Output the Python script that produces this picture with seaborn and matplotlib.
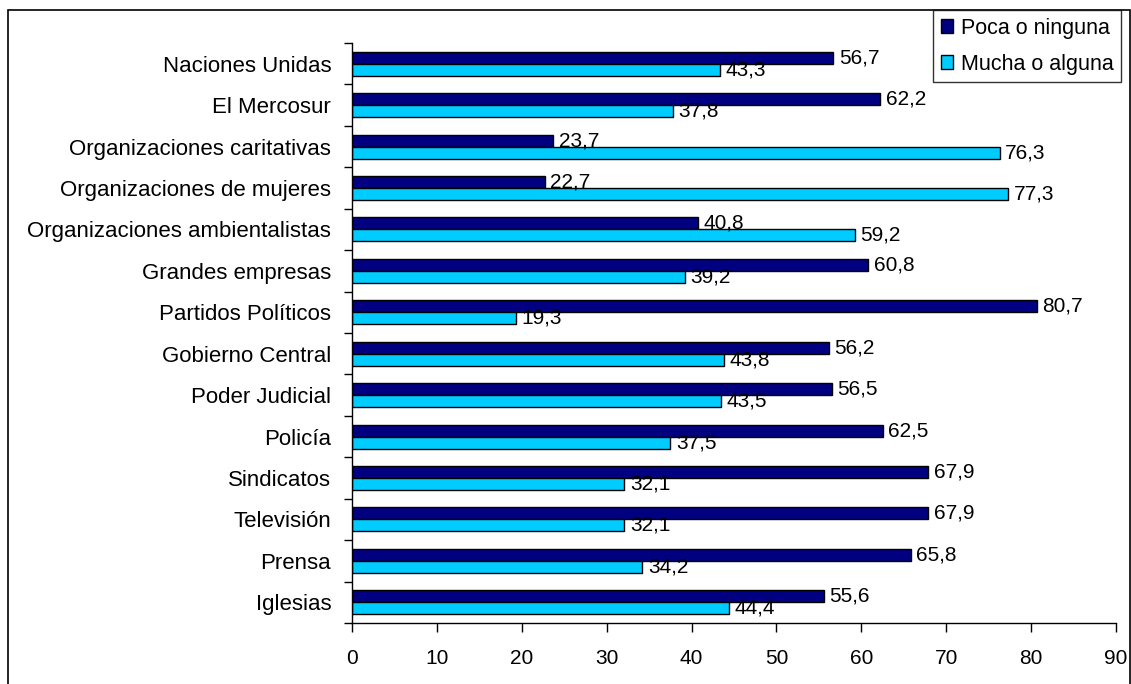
import matplotlib
matplotlib.use("Agg")
import matplotlib.pyplot as plt
import matplotlib.patches as mpatches
from matplotlib.ticker import FixedLocator, MultipleLocator
import seaborn as sns
import pandas as pd

categories = ["Naciones Unidas", "El Mercosur", "Organizaciones caritativas",
              "Organizaciones de mujeres", "Organizaciones ambientalistas",
              "Grandes empresas", "Partidos Políticos", "Gobierno Central",
              "Poder Judicial", "Policía", "Sindicatos", "Televisión",
              "Prensa", "Iglesias"]
poca = [56.7, 62.2, 23.7, 22.7, 40.8, 60.8, 80.7, 56.2, 56.5, 62.5, 67.9, 67.9, 65.8, 55.6]
mucha = [43.3, 37.8, 76.3, 77.3, 59.2, 39.2, 19.3, 43.8, 43.5, 37.5, 32.1, 32.1, 34.2, 44.4]
series = ["Poca o ninguna", "Mucha o alguna"]
colors = ["#000080", "#00CCFF"]

df = pd.DataFrame({
    "cat": categories * 2,
    "val": poca + mucha,
    "serie": [series[0]] * len(categories) + [series[1]] * len(categories),
})

sns.set_theme(style="white")
plt.rcParams["font.family"] = ["Liberation Sans", "DejaVu Sans"]

fig = plt.figure(figsize=(11.31, 6.84), dpi=100)
ax = fig.add_axes([352 / 1131, 1 - 623 / 684, (1116 - 352) / 1131, (623 - 43) / 684])

sns.barplot(data=df, y="cat", x="val", hue="serie", orient="h",
            palette=colors, saturation=1, width=0.58, edgecolor="black", linewidth=1.0,
            ax=ax, legend=True, order=categories, hue_order=series)

for cont in ax.containers:
    labels = [f"{v:.1f}".replace(".", ",") for v in cont.datavalues]
    ax.bar_label(cont, labels=labels, padding=4, fontsize=15, color="black")

ax.set_xlim(0, 90)
ax.set_ylim(len(categories) - 0.5, -0.5)
ax.xaxis.set_major_locator(MultipleLocator(10))
ax.yaxis.set_minor_locator(FixedLocator([i - 0.5 for i in range(len(categories) + 1)]))
ax.tick_params(axis="y", which="major", length=0, labelsize=16, pad=15, colors="black")
ax.tick_params(axis="y", which="minor", length=6, width=1, color="black", direction="out", left=True)
ax.tick_params(axis="x", which="major", length=6.5, width=1, color="black", direction="out",
               bottom=True, labelsize=15, pad=12, labelcolor="black")
ax.set_xlabel("")
ax.set_ylabel("")
for s in ["top", "right"]:
    ax.spines[s].set_visible(False)
for s in ["left", "bottom"]:
    ax.spines[s].set_color("black")
    ax.spines[s].set_linewidth(1)

leg = ax.get_legend()
leg.remove()
handles = [mpatches.Patch(facecolor=c, edgecolor="black", label=s) for c, s in zip(colors, series)]
leg = fig.legend(handles=handles, loc="upper left", bbox_to_anchor=(933 / 1131, 1 - 10 / 684),
                 frameon=True, fancybox=False, fontsize=15.5, handlelength=0.6, handleheight=0.6,
                 handletextpad=0.35, borderpad=0.35, labelspacing=0.7, borderaxespad=0,
                 labelcolor="black")
leg.get_frame().set_edgecolor("black")
leg.get_frame().set_linewidth(1)

border = mpatches.Rectangle((8 / 1131, -0.05), (1130 - 8) / 1131, 1.05 - 10 / 684,
                            transform=fig.transFigure, fill=False, edgecolor="black",
                            linewidth=1.2, clip_on=False)
fig.patches.append(border)

fig.savefig("out.png", dpi=100)
